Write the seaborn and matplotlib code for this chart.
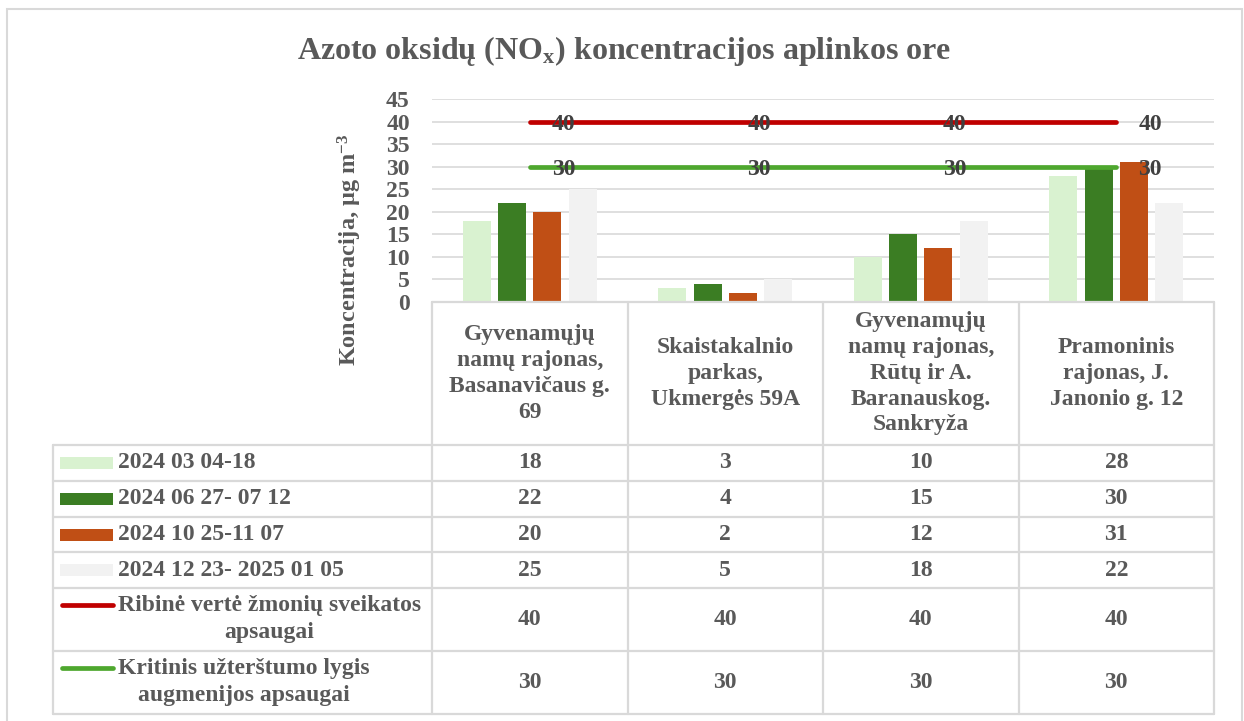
import numpy as np
import pandas as pd
import matplotlib.pyplot as plt
import matplotlib.transforms as mtransforms
from matplotlib.patches import Rectangle
from matplotlib.lines import Line2D
import seaborn as sns

# Data
categories = [
    "Gyvenamųjų\nnamų rajonas,\nBasanavičaus g.\n69",
    "Skaistakalnio\nparkas,\nUkmergės 59A",
    "Gyvenamųjų\nnamų rajonas,\nRūtų ir A.\nBaranauskog.\nSankryža",
    "Pramoninis\nrajonas, J.\nJanonio g. 12",
]
periods = ["2024 03 04-18", "2024 06 27- 07 12", "2024 10 25-11 07", "2024 12 23- 2025 01 05"]
period1 = [18, 3, 10, 28]
period2 = [22, 4, 15, 30]
period3 = [20, 2, 12, 31]
period4 = [25, 5, 18, 22]
limit_label = "Ribinė vertė žmonių sveikatos\napsaugai"
limit_values = [40, 40, 40, 40]
critical_label = "Kritinis užterštumo lygis\naugmenijos apsaugai"
critical_values = [30, 30, 30, 30]

bar_colors = ["#D9F2D0", "#3B7D23", "#C04F15", "#F2F2F2"]
limit_color = "#C00000"
critical_color = "#4EA72E"
text_color = "#595959"
grid_color = "#D9D9D9"

series = [period1, period2, period3, period4]
rows = []
for period, vals in zip(periods, series):
    for cat, v in zip(categories, vals):
        rows.append({"Vieta": cat, "Laikotarpis": period, "Koncentracija": v})
df = pd.DataFrame(rows)

sns.set_theme(style="white")
plt.rcParams['font.family'] = ['Liberation Serif', 'DejaVu Serif']
plt.rcParams['font.weight'] = 'bold'
plt.rcParams['mathtext.fontset'] = 'custom'
plt.rcParams['mathtext.rm'] = 'Liberation Serif:bold'
plt.rcParams['mathtext.bf'] = 'Liberation Serif:bold'
plt.rcParams['mathtext.it'] = 'Liberation Serif:bold'

W, H = 1244, 721
fig = plt.figure(figsize=(W / 100, H / 100), dpi=100)

def fy(py):
    return 1 - py / H

def fx(px):
    return px / W

ax_left, ax_right = 432, 1214
ax_top, ax_bottom = 99.3, 301.7
ax = fig.add_axes([fx(ax_left), fy(ax_bottom), fx(ax_right) - fx(ax_left), fy(ax_top) - fy(ax_bottom)])

sns.barplot(data=df, x="Vieta", y="Koncentracija", hue="Laikotarpis", hue_order=periods,
            order=categories, palette=bar_colors, saturation=1, width=0.724, gap=0.21,
            linewidth=0, ax=ax, legend=False, zorder=2)

xpos = np.arange(len(categories))
for vals, col in [(limit_values, limit_color), (critical_values, critical_color)]:
    ax.plot(xpos, vals, color=col, lw=3.4, solid_capstyle='round', zorder=3)
    for x, v in zip(xpos, vals):
        ax.annotate(str(v), (x, v), xytext=(24.5, 0), textcoords='offset points',
                    ha='center', va='center_baseline', fontsize=17, fontweight='bold',
                    color="#404040", zorder=4)

ax.set_xlim(-0.5, len(categories) - 0.5)
ax.set_ylim(0, 45)
ax.set_yticks(range(0, 46, 5))
ax.yaxis.grid(True, color=grid_color, lw=1.2, zorder=0)
ax.set_axisbelow(True)
ax.set_xticks([])
ax.set_xlabel("")
ax.set_ylabel("")
ax.tick_params(axis='y', length=0, pad=16, labelsize=17, labelcolor=text_color)
for lab in ax.get_yticklabels():
    lab.set_fontweight('bold')
for s in ax.spines.values():
    s.set_visible(False)

# title and axis label
fig.text(0.502, fy(51), "Azoto oksidų (NO$_{x}$) koncentracijos aplinkos ore",
         ha='center', va='center', fontsize=23, fontweight='bold', color=text_color)
fig.text(fx(350), fy(250), "Koncentracija, µg m$^{-3}$", rotation=90,
         ha='center', va='center', fontsize=17.5, fontweight='bold', color=text_color)

# data table under the axes
blend = mtransforms.blended_transform_factory(ax.transData, fig.transFigure)
row_edges = [ax_bottom, 445, 480.7, 516.7, 552.3, 587.7, 650.7, 713.5]
table_left = 53
tbl_lw = 1.6

col_edges = np.arange(len(categories) + 1) - 0.5
for ce in col_edges:
    ax.add_line(Line2D([ce, ce], [fy(row_edges[0]), fy(row_edges[-1])], transform=blend,
                       color=grid_color, lw=tbl_lw, clip_on=False))
ax.add_line(Line2D([col_edges[0], col_edges[-1]], [fy(row_edges[0])] * 2, transform=blend,
                   color=grid_color, lw=tbl_lw, clip_on=False))
for re_ in row_edges[1:]:
    fig.add_artist(Line2D([fx(table_left), fx(ax_right)], [fy(re_)] * 2,
                          color=grid_color, lw=tbl_lw))
fig.add_artist(Line2D([fx(table_left)] * 2, [fy(row_edges[1]), fy(row_edges[-1])],
                      color=grid_color, lw=tbl_lw))

# header row
hdr_y = fy((row_edges[0] + row_edges[1]) / 2)
for x, cat in zip(xpos, categories):
    ax.text(x, hdr_y, cat, transform=blend, ha='center', va='center', fontsize=17,
            fontweight='bold', color=text_color, linespacing=1.3)

# body rows
row_labels = periods + [limit_label, critical_label]
row_values = series + [limit_values, critical_values]
for i, (lab, vals) in enumerate(zip(row_labels, row_values)):
    top, bot = row_edges[i + 1], row_edges[i + 2]
    cy = fy((top + bot) / 2)
    for x, v in zip(xpos, vals):
        ax.text(x, cy, str(v), transform=blend, ha='center', va='center', fontsize=17,
                fontweight='bold', color=text_color)
    fig.text(fx(118), cy, lab, ha='left', va='center', multialignment='center',
             fontsize=17, fontweight='bold', color=text_color, linespacing=1.35)
    if i < len(periods):
        fig.add_artist(Rectangle((fx(60), cy - 6 / H), fx(113) - fx(60), 12 / H,
                                 color=bar_colors[i], lw=0))
    else:
        n_lines = lab.count("\n") + 1
        ly = (top + bot) / 2 - (n_lines - 1) * 14
        col = limit_color if lab == limit_label else critical_color
        fig.add_artist(Line2D([fx(62), fx(113)], [fy(ly)] * 2, color=col, lw=3.4,
                              solid_capstyle='round'))

# chart frame
fig.add_artist(Rectangle((fx(7), -0.05), fx(1242) - fx(7), fy(9) + 0.05, fill=False,
                         edgecolor=grid_color, lw=1.5))

fig.savefig("out.png", dpi=100)
